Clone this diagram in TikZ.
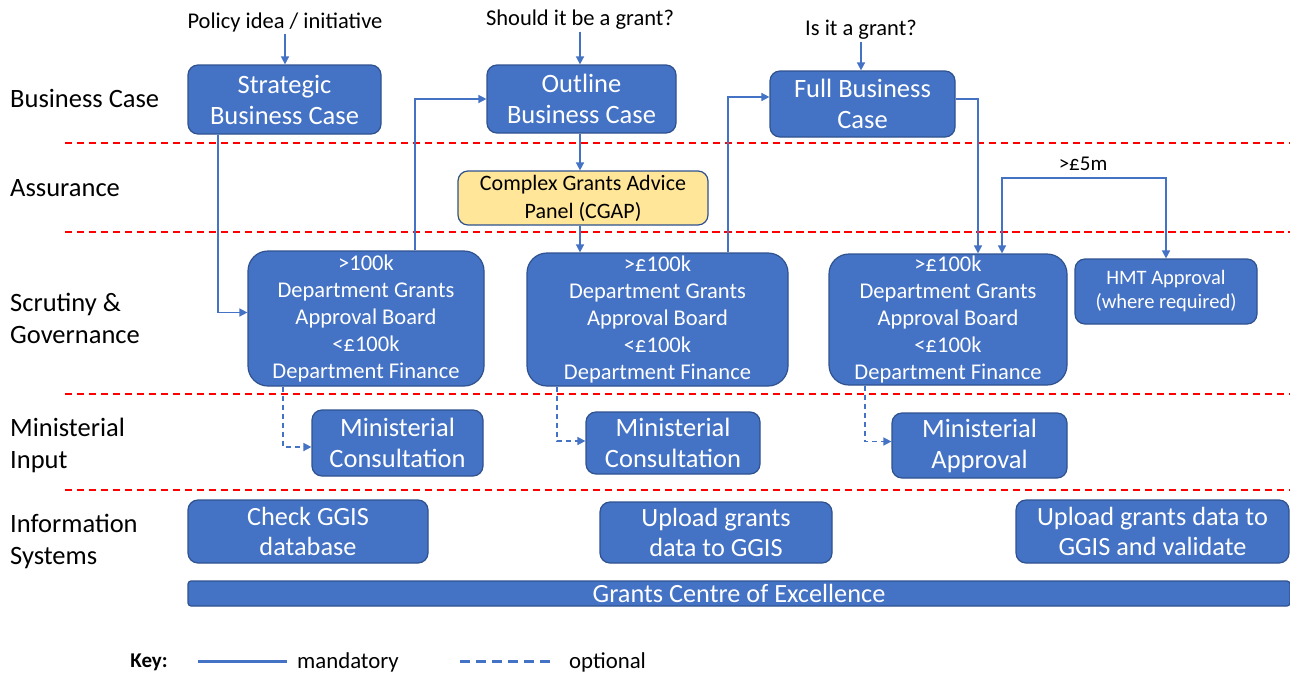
\documentclass[tikz,border=0pt]{standalone}
\usepackage{fontspec}
\setmainfont{Carlito}
\usetikzlibrary{arrows.meta}
\definecolor{bfill}{HTML}{4472C4}
\definecolor{bline}{HTML}{2F528F}
\definecolor{yfill}{HTML}{FFE699}
\definecolor{sepred}{HTML}{FF0000}
\newcommand{\myfs}[2]{\fontsize{#1}{#2}\selectfont}
\tikzset{
  wh/.style 2 args={minimum width=#1, minimum height=#2},
  box/.style={draw=bline, line width=1.2pt, fill=bfill, text=white, rounded corners=10pt,
              align=center, inner sep=0pt, font=\myfs{26.5}{31}},
  board/.style={box, rounded corners=20pt, font=\myfs{22.5}{27}},
  infobox/.style={box, font=\myfs{26.3}{30}},
  ybox/.style={box, fill=yfill, text=black, font=\myfs{22}{28}},
  hbox/.style={box, font=\myfs{20.5}{24}},
  head/.style={font=\myfs{22.5}{26}, inner sep=2pt},
  rowlab/.style={anchor=west, align=left, font=\myfs{26.5}{32}, inner sep=0pt},
  keytxt/.style={anchor=west, font=\myfs{22.8}{26}, inner sep=0pt},
  arr/.style={draw=bfill, line width=1.5pt, -{Triangle[length=8pt,width=8pt]}},
  darr/.style={arr, dash pattern=on 5pt off 4pt},
  sep/.style={draw=sepred, line width=1.3pt, dash pattern=on 7pt off 5pt},
}
\begin{document}
\begin{tikzpicture}[x=1pt,y=-1pt]
\useasboundingbox (0,0) rectangle (1290,675);
\fill[white] (0,0) rectangle (1290,675);

% separators
\draw[sep] (65,143) -- (1290,143);
\draw[sep] (65,232) -- (1290,232);
\draw[sep, line width=2pt] (700,232) -- (1290,232);
\draw[sep] (65,394) -- (1290,394);
\draw[sep] (65,490) -- (1290,490);

% row labels
\node[rowlab] (l1) at (10,98) {Business Case};
\node[rowlab] (l2) at (10,188) {Assurance};
\node[rowlab] (l3) at (10,318) {Scrutiny \&\\Governance};
\node[rowlab] (l4) at (10,445) {Ministerial\\Input};
\node[rowlab] (l5) at (10,541) {Information\\Systems};

% header texts
\node[head] (pol) at (285,22) {Policy idea / initiative};
\node[head] (shd) at (580,20) {Should it be a grant?};
\node[head] (isg) at (861,30) {Is it a grant?};

% business case row
\node[box, wh={193}{69}] (sbc) at (284.5,99.5) {Strategic\\Business Case};
\node[box, wh={189}{68}] (obc) at (581.5,99) {Outline\\Business Case};
\node[box, wh={185}{66}] (fbc) at (862.5,104) {Full Business\\Case};

% assurance
\node[ybox, wh={250}{54}] (cgap) at (583,198) {Complex Grants Advice\\Panel (CGAP)};

% scrutiny
\node[board, wh={236}{135}] (b1) at (366,318.5) {>100k\\Department Grants\\Approval Board\\<£100k\\Department Finance};
\node[board, wh={261}{133}] (b2) at (657.5,319.5) {>£100k\\Department Grants\\Approval Board\\<£100k\\Department Finance};
\node[board, wh={238}{131}] (b3) at (948,319.5) {>£100k\\Department Grants\\Approval Board\\<£100k\\Department Finance};
\node[hbox, wh={182}{65}] (hmt) at (1166,291.5) {HMT Approval\\(where required)};

% ministerial
\node[box, wh={171}{66}] (mc1) at (397.5,443) {Ministerial\\Consultation};
\node[box, wh={174}{62}] (mc2) at (673,443) {Ministerial\\Consultation};
\node[box, wh={175}{65}] (ma) at (979.5,445.5) {Ministerial\\Approval};

% information systems
\node[infobox, wh={240}{63}] (ck) at (308,531.5) {Check GGIS\\database};
\node[infobox, wh={232}{61}] (up1) at (716,532.5) {Upload grants\\data to GGIS};
\node[infobox, wh={273}{63}] (up2) at (1152.5,531.5) {Upload grants data to\\GGIS and validate};
\node[infobox, rounded corners=3pt, wh={1102}{25}] (gce) at (739,593.5) {Grants Centre of Excellence};

% connectors
\draw[arr] (pol.south) -- (pol.south |- sbc.north);
\draw[arr] (shd.south) -- (shd.south |- obc.north);
\draw[arr] (isg.south) -- (isg.south |- fbc.north);

\draw[arr] ([xshift=-66.5pt]sbc.south) |- ([yshift=6pt]b1.west);
\draw[arr] ([xshift=49pt]b1.north) |- (obc.west);
\draw[arr] ([xshift=-1.5pt]obc.south) -- ([xshift=-3pt]cgap.north);
\draw[arr] ([xshift=-3pt]cgap.south) -- ([xshift=-3pt]cgap.south |- b2.north);
\draw[arr] ([xshift=70.5pt]b2.north) |- ([yshift=7pt]fbc.west);
\draw[arr] ([yshift=5pt]fbc.east) -| ([xshift=30pt]b3.north);

\coordinate (f5) at (1083,178);
\draw[arr, {Triangle[length=8pt,width=8pt]}-{Triangle[length=8pt,width=8pt]}]
  ([xshift=54pt]b3.north) |- (f5) -| (hmt.north);
\node[head, font=\myfs{21}{25}] (f5lab) at (1083,164) {>£5m};

\draw[darr] ([xshift=-83pt]b1.south) |- ([yshift=-4pt]mc1.west);
\draw[darr] ([xshift=-100.5pt]b2.south) |- ([yshift=2pt]mc2.west);
\draw[darr] ([xshift=-83pt]b3.south) |- ([yshift=4pt]ma.west);

% key
\node[font=\bfseries\myfs{21}{25}, inner sep=0pt] (key) at (149,662) {Key:};
\draw[draw=bfill, line width=3pt] (198,661) -- (287,661);
\node[keytxt] (mand) at (297,662) {mandatory};
\draw[draw=bfill, line width=3pt, dash pattern=on 10pt off 6pt] (460,661) -- (556,661);
\node[keytxt] (opt) at (569,662) {optional};
\end{tikzpicture}
\end{document}
